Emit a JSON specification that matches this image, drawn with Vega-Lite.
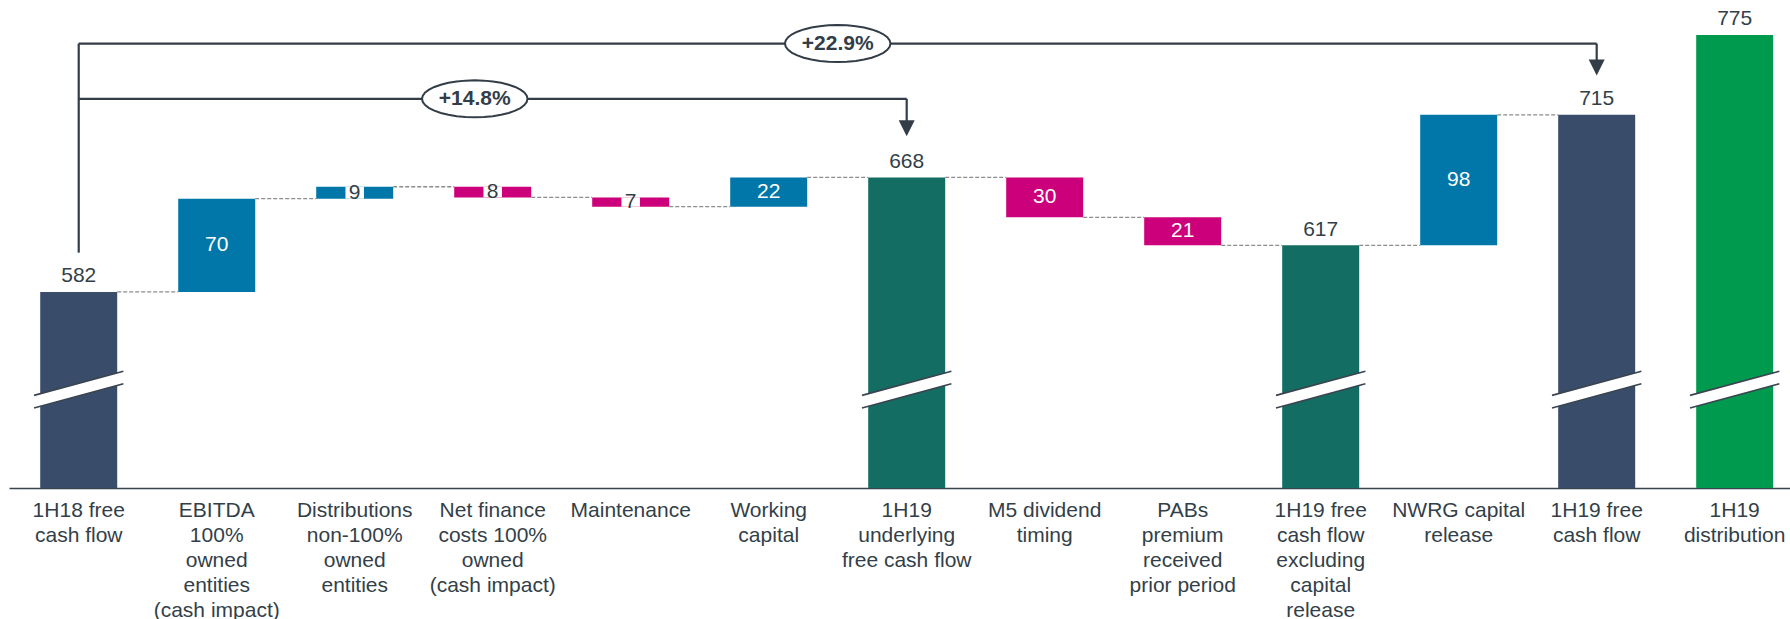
{
  "$schema": "https://vega.github.io/schema/vega-lite/v6.json",
  "width": 1781,
  "height": 488,
  "autosize": {"type": "none"},
  "padding": {"left": 9, "top": 0, "right": 0, "bottom": 131},
  "background": "white",
  "config": {"view": {"stroke": null}, "font": "Liberation Sans"},
  "datasets": {
    "bars": [
      {"cat": "1H18 free\ncash flow", "type": "total", "start": 0, "end": 582, "label": "582"},
      {"cat": "EBITDA\n100%\nowned\nentities\n(cash impact)", "type": "increase", "start": 582, "end": 652, "label": "70"},
      {"cat": "Distributions\nnon-100%\nowned\nentities", "type": "increase", "start": 652, "end": 661, "label": "9"},
      {"cat": "Net finance\ncosts 100%\nowned\n(cash impact)", "type": "decrease", "start": 661, "end": 653, "label": "8"},
      {"cat": "Maintenance", "type": "decrease", "start": 653, "end": 646, "label": "7"},
      {"cat": "Working\ncapital", "type": "increase", "start": 646, "end": 668, "label": "22"},
      {"cat": "1H19\nunderlying\nfree cash flow", "type": "subtotal", "start": 0, "end": 668, "label": "668"},
      {"cat": "M5 dividend\ntiming", "type": "decrease", "start": 668, "end": 638, "label": "30"},
      {"cat": "PABs\npremium\nreceived\nprior period", "type": "decrease", "start": 638, "end": 617, "label": "21"},
      {"cat": "1H19 free\ncash flow\nexcluding\ncapital\nrelease", "type": "subtotal", "start": 0, "end": 617, "label": "617"},
      {"cat": "NWRG capital\nrelease", "type": "increase", "start": 617, "end": 715, "label": "98"},
      {"cat": "1H19 free\ncash flow", "type": "total", "start": 0, "end": 715, "label": "715"},
      {"cat": "1H19\ndistribution", "type": "distribution", "start": 0, "end": 775, "label": "775"}
    ],
    "connectors": [
      {"from": "1H18 free\ncash flow", "to": "EBITDA\n100%\nowned\nentities\n(cash impact)", "level": 582},
      {"from": "EBITDA\n100%\nowned\nentities\n(cash impact)", "to": "Distributions\nnon-100%\nowned\nentities", "level": 652},
      {"from": "Distributions\nnon-100%\nowned\nentities", "to": "Net finance\ncosts 100%\nowned\n(cash impact)", "level": 661},
      {"from": "Net finance\ncosts 100%\nowned\n(cash impact)", "to": "Maintenance", "level": 653},
      {"from": "Maintenance", "to": "Working\ncapital", "level": 646},
      {"from": "Working\ncapital", "to": "1H19\nunderlying\nfree cash flow", "level": 668},
      {"from": "1H19\nunderlying\nfree cash flow", "to": "M5 dividend\ntiming", "level": 668},
      {"from": "M5 dividend\ntiming", "to": "PABs\npremium\nreceived\nprior period", "level": 638},
      {"from": "PABs\npremium\nreceived\nprior period", "to": "1H19 free\ncash flow\nexcluding\ncapital\nrelease", "level": 617},
      {"from": "1H19 free\ncash flow\nexcluding\ncapital\nrelease", "to": "NWRG capital\nrelease", "level": 617},
      {"from": "NWRG capital\nrelease", "to": "1H19 free\ncash flow", "level": 715}
    ],
    "brackets": [
      {"x1": "1H18 free\ncash flow", "x2": "1H18 free\ncash flow", "y1": 611.5, "y2": 768.5},
      {"x1": "1H18 free\ncash flow", "x2": "1H19 free\ncash flow", "y1": 768.5, "y2": 768.5},
      {"x1": "1H18 free\ncash flow", "x2": "1H19\nunderlying\nfree cash flow", "y1": 727, "y2": 727},
      {"x1": "1H19\nunderlying\nfree cash flow", "x2": "1H19\nunderlying\nfree cash flow", "y1": 727, "y2": 708},
      {"x1": "1H19 free\ncash flow", "x2": "1H19 free\ncash flow", "y1": 768.5, "y2": 754}
    ],
    "arrows": [
      {"cat": "1H19\nunderlying\nfree cash flow", "y": 705},
      {"cat": "1H19 free\ncash flow", "y": 750.5}
    ],
    "breaks": [
      {"cat": "1H18 free\ncash flow", "at": 508.7},
      {"cat": "1H19\nunderlying\nfree cash flow", "at": 508.7},
      {"cat": "1H19 free\ncash flow\nexcluding\ncapital\nrelease", "at": 508.7},
      {"cat": "1H19 free\ncash flow", "at": 508.7},
      {"cat": "1H19\ndistribution", "at": 508.7}
    ],
    "growth": [
      {"pos": 2.87, "y": 727, "text": "+14.8%"},
      {"pos": 5.5, "y": 768.5, "text": "+22.9%"}
    ]
  },
  "resolve": {"scale": {"x": "independent"}},
  "layer": [
    {
      "layer": [
        {
          "data": {"name": "bars"},
          "mark": {"type": "bar"},
          "encoding": {
            "x": {
              "field": "cat", "type": "nominal", "title": null,
              "scale": {
                "domain": ["1H18 free\ncash flow", "EBITDA\n100%\nowned\nentities\n(cash impact)", "Distributions\nnon-100%\nowned\nentities", "Net finance\ncosts 100%\nowned\n(cash impact)", "Maintenance", "Working\ncapital", "1H19\nunderlying\nfree cash flow", "M5 dividend\ntiming", "PABs\npremium\nreceived\nprior period", "1H19 free\ncash flow\nexcluding\ncapital\nrelease", "NWRG capital\nrelease", "1H19 free\ncash flow", "1H19\ndistribution"],
                "paddingInner": 0.442, "paddingOuter": 0.174, "align": 0.65, "round": false
              },
              "axis": {
                "title": null, "labelAngle": 0, "ticks": false, "labelPadding": 11,
                "labelFontSize": 21, "labelLineHeight": 25, "labelColor": "#333F48",
                "labelFont": "Liberation Sans", "labelLimit": 0, "labelOverlap": false,
                "labelBaseline": "top",
                "domainColor": "#3A4450", "domainWidth": 1.6,
                "labelExpr": "split(datum.value, '\\n')"
              }
            },
            "y": {"field": "end", "type": "quantitative", "scale": {"domain": [434.8, 801.2], "clamp": true, "nice": false, "zero": false}, "axis": null},
            "y2": {"field": "start"},
            "color": {
              "field": "type", "type": "nominal", "legend": null,
              "scale": {"domain": ["total", "increase", "decrease", "subtotal", "distribution"], "range": ["#394D6B", "#0077A8", "#CC007A", "#136D62", "#009A4E"]}
            }
          }
        },
        {
          "data": {"name": "bars"},
          "transform": [{"filter": "abs(datum.end - datum.start) < 15"}],
          "mark": {"type": "bar", "color": "white", "width": {"band": 0.24}},
          "encoding": {
            "x": {"field": "cat", "type": "nominal", "title": null},
            "y": {"field": "end", "type": "quantitative", "scale": {"domain": [434.8, 801.2], "clamp": true, "nice": false, "zero": false}, "axis": null},
            "y2": {"field": "start"}
          }
        },
        {
          "data": {"name": "connectors"},
          "mark": {"type": "rule", "color": "#8C8C8C", "strokeWidth": 1.3, "strokeDash": [4, 2], "xOffset": 38.5, "x2Offset": -38.5},
          "encoding": {
            "x": {"field": "from", "type": "nominal", "title": null},
            "x2": {"field": "to"},
            "y": {"field": "level", "type": "quantitative", "scale": {"domain": [434.8, 801.2], "clamp": true, "nice": false, "zero": false}, "axis": null}
          }
        },
        {
          "data": {"name": "bars"},
          "transform": [{"filter": "datum.start == 0"}],
          "mark": {"type": "text", "fontSize": 21, "color": "#333F48", "baseline": "alphabetic", "dy": -9.5},
          "encoding": {
            "x": {"field": "cat", "type": "nominal", "title": null},
            "y": {"field": "end", "type": "quantitative", "scale": {"domain": [434.8, 801.2], "clamp": true, "nice": false, "zero": false}, "axis": null},
            "text": {"field": "label"}
          }
        },
        {
          "data": {"name": "bars"},
          "transform": [
            {"filter": "datum.start != 0 && abs(datum.end - datum.start) >= 15"},
            {"fold": ["start", "end"], "as": ["k", "v"]}
          ],
          "mark": {"type": "text", "fontSize": 21, "color": "white", "baseline": "middle"},
          "encoding": {
            "x": {"field": "cat", "type": "nominal", "title": null},
            "y": {"aggregate": "mean", "field": "v", "type": "quantitative", "scale": {"domain": [434.8, 801.2], "clamp": true, "nice": false, "zero": false}, "axis": null},
            "text": {"field": "label"}
          }
        },
        {
          "data": {"name": "bars"},
          "transform": [
            {"filter": "datum.start != 0 && abs(datum.end - datum.start) < 15"},
            {"fold": ["start", "end"], "as": ["k", "v"]}
          ],
          "mark": {"type": "text", "fontSize": 21, "color": "#333F48", "baseline": "middle"},
          "encoding": {
            "x": {"field": "cat", "type": "nominal", "title": null},
            "y": {"aggregate": "mean", "field": "v", "type": "quantitative", "scale": {"domain": [434.8, 801.2], "clamp": true, "nice": false, "zero": false}, "axis": null},
            "text": {"field": "label"}
          }
        },
        {
          "data": {"name": "breaks"},
          "mark": {"type": "point", "shape": "M-1,0.13L1,-0.41L1,-0.13L-1,0.41Z", "size": 7992, "filled": true, "color": "white", "opacity": 1, "strokeWidth": 0},
          "encoding": {
            "x": {"field": "cat", "type": "nominal", "title": null},
            "y": {"field": "at", "type": "quantitative", "scale": {"domain": [434.8, 801.2], "clamp": true, "nice": false, "zero": false}, "axis": null}
          }
        },
        {
          "data": {"name": "breaks"},
          "mark": {"type": "point", "shape": "M-1,0.13L1,-0.41M-1,0.41L1,-0.13", "size": 7992, "filled": false, "color": "#3A4450", "opacity": 1, "strokeWidth": 1.6},
          "encoding": {
            "x": {"field": "cat", "type": "nominal", "title": null},
            "y": {"field": "at", "type": "quantitative", "scale": {"domain": [434.8, 801.2], "clamp": true, "nice": false, "zero": false}, "axis": null}
          }
        },
        {
          "data": {"name": "brackets"},
          "mark": {"type": "rule", "color": "#333D47", "strokeWidth": 2.2},
          "encoding": {
            "x": {"field": "x1", "type": "nominal", "title": null},
            "x2": {"field": "x2"},
            "y": {"field": "y1", "type": "quantitative", "scale": {"domain": [434.8, 801.2], "clamp": true, "nice": false, "zero": false}, "axis": null},
            "y2": {"field": "y2"}
          }
        },
        {
          "data": {"name": "arrows"},
          "mark": {"type": "point", "shape": "M-1,-1L1,-1L0,1Z", "size": 256, "filled": true, "color": "#333D47", "opacity": 1, "strokeWidth": 0},
          "encoding": {
            "x": {"field": "cat", "type": "nominal", "title": null},
            "y": {"field": "y", "type": "quantitative", "scale": {"domain": [434.8, 801.2], "clamp": true, "nice": false, "zero": false}, "axis": null}
          }
        }
      ]
    },
    {
      "data": {"name": "growth"},
      "encoding": {
        "x": {"field": "pos", "type": "quantitative", "scale": {"domain": [-0.5051, 12.4007], "nice": false, "zero": false}, "axis": null},
        "y": {"field": "y", "type": "quantitative", "scale": {"domain": [434.8, 801.2], "clamp": true, "nice": false, "zero": false}, "axis": null}
      },
      "layer": [
        {
          "mark": {"type": "point", "shape": "M1,0L0.985,0.061L0.94,0.12L0.866,0.175L0.766,0.225L0.643,0.268L0.5,0.303L0.342,0.329L0.174,0.345L0,0.35L-0.174,0.345L-0.342,0.329L-0.5,0.303L-0.643,0.268L-0.766,0.225L-0.866,0.175L-0.94,0.12L-0.985,0.061L-1,0L-0.985,-0.061L-0.94,-0.12L-0.866,-0.175L-0.766,-0.225L-0.643,-0.268L-0.5,-0.303L-0.342,-0.329L-0.174,-0.345L0,-0.35L0.174,-0.345L0.342,-0.329L0.5,-0.303L0.643,-0.268L0.766,-0.225L0.866,-0.175L0.94,-0.12L0.985,-0.061Z", "size": 11130, "filled": true, "fill": "white", "stroke": "#333D47", "strokeWidth": 2, "opacity": 1}
        },
        {
          "mark": {"type": "text", "fontSize": 21, "fontWeight": "bold", "color": "#333D47", "baseline": "middle"},
          "encoding": {"text": {"field": "text"}}
        }
      ]
    }
  ]
}
